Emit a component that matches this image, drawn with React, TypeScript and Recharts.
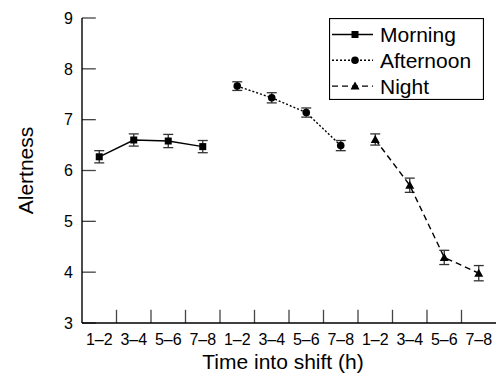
import React from 'react';
import { ComposedChart, Line, XAxis, YAxis, ErrorBar, ReferenceLine, Legend } from 'recharts';

const tickLabels = ['1–2', '3–4', '5–6', '7–8', '1–2', '3–4', '5–6', '7–8', '1–2', '3–4', '5–6', '7–8'];
const morningValues = [6.27, 6.6, 6.58, 6.47];
const morningErrors = [0.12, 0.12, 0.13, 0.12];
const afternoonValues = [7.66, 7.43, 7.14, 6.49];
const afternoonErrors = [0.085, 0.1, 0.09, 0.1];
const nightValues = [6.61, 5.71, 4.29, 3.98];
const nightErrors = [0.11, 0.14, 0.14, 0.15];
const yTicks = [3, 4, 5, 6, 7, 8, 9];
const seriesNames = ['Morning', 'Afternoon', 'Night'];

const build = (vals: number[], errs: number[], start: number) =>
  vals.map((v, i) => ({ x: start + i + 0.5, y: v, err: errs[i] }));

const morningData = build(morningValues, morningErrors, 0);
const afternoonData = build(afternoonValues, afternoonErrors, 4);
const nightData = build(nightValues, nightErrors, 8);

const FONT = '"Liberation Sans", Arial, Helvetica, sans-serif';

const Square = (p: any) => {
  const { cx, cy } = p;
  if (cx == null || cy == null) return null;
  return <rect key={`s${cx}`} x={cx - 3.5} y={cy - 3.5} width={7} height={7} fill="#000" />;
};
const Circle = (p: any) => {
  const { cx, cy } = p;
  if (cx == null || cy == null) return null;
  return <circle key={`c${cx}`} cx={cx} cy={cy} r={3.8} fill="#000" />;
};
const Tri = (p: any) => {
  const { cx, cy } = p;
  if (cx == null || cy == null) return null;
  return <path key={`t${cx}`} d={`M${cx},${cy - 4.5} L${cx + 4.5},${cy + 3.5} L${cx - 4.5},${cy + 3.5} Z`} fill="#000" />;
};

const dashes = ['0', '2 2', '6 4'];
const markers = [Square, Circle, Tri];

const LegendBox = () => (
  <svg width={155} height={82} style={{ display: 'block' }}>
    <rect x={0.5} y={0.5} width={154} height={81} fill="#fff" stroke="#000" strokeWidth={1.2} />
    {seriesNames.map((name, i) => {
      const cy = 16.5 + i * 25.8;
      const M = markers[i];
      return (
        <g key={name}>
          <line x1={3} x2={44} y1={cy} y2={cy} stroke="#000" strokeWidth={1.4} strokeDasharray={dashes[i] === '0' ? undefined : dashes[i]} />
          <M cx={26} cy={cy} />
          <text x={51} y={cy} dominantBaseline="central" fontSize={21} fontFamily={FONT} fill="#000">
            {name}
          </text>
        </g>
      );
    })}
  </svg>
);

export default function App() {
  return (
    <div style={{ position: 'absolute', left: 0, top: 0, width: 496, height: 374, background: '#fff' }}>
      <ComposedChart width={496} height={374} margin={{ top: 18, right: 0, bottom: 0, left: 0 }}>
        <XAxis
          type="number"
          dataKey="x"
          domain={[0, 12]}
          ticks={tickLabels.map((_, i) => i + 0.5)}
          tickFormatter={(v: number) => tickLabels[Math.floor(v)]}
          interval={0}
          height={51}
          tickLine={false}
          tickMargin={5}
          axisLine={{ stroke: '#000', strokeWidth: 1.4 }}
          tick={{ fill: '#000', fontSize: 16, fontFamily: FONT }}
          label={{
            content: (props: any) => {
              const vb = props.viewBox;
              return (
                <text x={vb.x + vb.width / 2 - 6} y={369} textAnchor="middle" fontSize={21} fontFamily={FONT} fill="#000">
                  Time into shift (h)
                </text>
              );
            },
          }}
        />
        <YAxis
          type="number"
          domain={[3, 9]}
          ticks={yTicks}
          width={82}
          tickLine={false}
          tickMargin={3}
          axisLine={{ stroke: '#000', strokeWidth: 1.4 }}
          tick={{ fill: '#000', fontSize: 16, fontFamily: FONT }}
          label={{
            content: (props: any) => {
              const vb = props.viewBox;
              const cx = 25;
              const cy = vb.y + vb.height / 2;
              return (
                <text x={cx} y={cy} transform={`rotate(-90, ${cx}, ${cy})`} textAnchor="middle" dominantBaseline="central" fontSize={21} fontFamily={FONT} fill="#000">
                  Alertness
                </text>
              );
            },
          }}
        />
        {yTicks.map((t) => (
          <ReferenceLine key={`yt${t}`} segment={[{ x: 0, y: t }, { x: 0.4, y: t }]} stroke="#444" strokeWidth={1.3} ifOverflow="visible" />
        ))}
        {tickLabels.slice(1).map((_, i) => (
          <ReferenceLine key={`xt${i}`} segment={[{ x: i + 1, y: 3 }, { x: i + 1, y: 3.26 }]} stroke="#444" strokeWidth={1.3} ifOverflow="visible" />
        ))}
        <Line data={morningData} dataKey="y" name="Morning" stroke="#000" strokeWidth={1.4} dot={Square} isAnimationActive={false} activeDot={false}>
          <ErrorBar dataKey="err" width={5} stroke="#333" strokeWidth={1.3} direction="y" isAnimationActive={false} />
        </Line>
        <Line data={afternoonData} dataKey="y" name="Afternoon" stroke="#000" strokeWidth={1.4} strokeDasharray="2 2" dot={Circle} isAnimationActive={false} activeDot={false}>
          <ErrorBar dataKey="err" width={5} stroke="#333" strokeWidth={1.3} direction="y" isAnimationActive={false} />
        </Line>
        <Line data={nightData} dataKey="y" name="Night" stroke="#000" strokeWidth={1.4} strokeDasharray="6 4" dot={Tri} isAnimationActive={false} activeDot={false}>
          <ErrorBar dataKey="err" width={5} stroke="#333" strokeWidth={1.3} direction="y" isAnimationActive={false} />
        </Line>
        <Legend
          layout="vertical"
          align="center"
          verticalAlign="middle"
          content={() => <LegendBox />}
          wrapperStyle={{ position: 'absolute', left: 329, top: 18, width: 155, height: 82 }}
        />
      </ComposedChart>
    </div>
  );
}
